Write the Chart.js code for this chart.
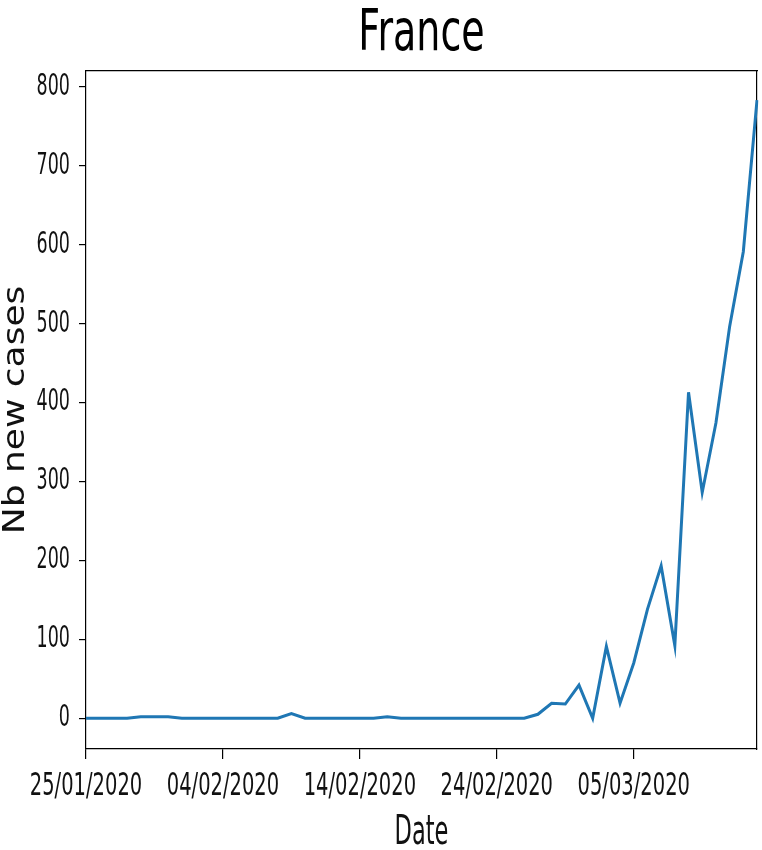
<!DOCTYPE html>
<html>
<head>
<meta charset="utf-8">
<script src="https://cdn.jsdelivr.net/npm/chart.js@4/dist/chart.umd.min.js"></script>
<style>
  html, body { margin: 0; padding: 0; background: #fff; }
  canvas { display: block; }
</style>
</head>
<body>
<canvas id="c" width="762" height="850"></canvas>
<script>
// ---- data ----
const chartTitle = 'France';
const xAxisTitle = 'Date';
const yAxisTitle = 'Nb new cases';
const dates = [
  '25/01/2020','26/01/2020','27/01/2020','28/01/2020','29/01/2020','30/01/2020','31/01/2020',
  '01/02/2020','02/02/2020','03/02/2020','04/02/2020','05/02/2020','06/02/2020','07/02/2020',
  '08/02/2020','09/02/2020','10/02/2020','11/02/2020','12/02/2020','13/02/2020','14/02/2020',
  '15/02/2020','16/02/2020','17/02/2020','18/02/2020','19/02/2020','20/02/2020','21/02/2020',
  '22/02/2020','23/02/2020','24/02/2020','25/02/2020','26/02/2020','27/02/2020','28/02/2020',
  '29/02/2020','01/03/2020','02/03/2020','03/03/2020','04/03/2020','05/03/2020','06/03/2020',
  '07/03/2020','08/03/2020','09/03/2020','10/03/2020','11/03/2020','12/03/2020','13/03/2020',
  '14/03/2020'
];
const newCases = [
  0, 0, 0, 0, 2, 2, 2,
  0, 0, 0, 0, 0, 0, 0,
  0, 6, 0, 0, 0, 0, 0,
  0, 2, 0, 0, 0, 0, 0,
  0, 0, 0, 0, 0, 5, 19,
  18, 42, 0, 91, 19, 70, 138,
  193, 92, 413, 286, 374, 496, 591,
  783
];
const xTickLabels = ['25/01/2020','04/02/2020','14/02/2020','24/02/2020','05/03/2020'];
const yTickValues = [0, 100, 200, 300, 400, 500, 600, 700, 800];

// ---- text stretch (reference text is drawn tall/narrow) ----
const canvas = document.getElementById('c');
const ctx = canvas.getContext('2d');
const STRETCH = { '38': [1, 1.5], '19.5': [1, 1.6], '22.5': [1, 1.8], '30': [1.2, 1], '17.5': [1, 1.75] };
const origFillText = ctx.fillText;
ctx.fillText = function (text, x, y, maxWidth) {
  const m = /([\d.]+)px/.exec(this.font);
  const s = m && STRETCH[m[1]];
  if (!s) {
    return maxWidth === undefined ? origFillText.call(this, text, x, y)
                                  : origFillText.call(this, text, x, y, maxWidth);
  }
  this.save();
  this.translate(x, y);
  this.scale(s[0], s[1]);
  if (maxWidth === undefined) origFillText.call(this, text, 0, 0);
  else origFillText.call(this, text, 0, 0, maxWidth / s[0]);
  this.restore();
};

const FONT = "'DejaVu Sans', 'Liberation Sans', sans-serif";
const AXIS = '#000';
const TXT = '#111';

new Chart(ctx, {
  type: 'line',
  data: {
    labels: dates,
    datasets: [{
      data: newCases,
      borderColor: '#1f77b4',
      borderWidth: 3,
      pointRadius: 0,
      tension: 0,
      fill: false
    }]
  },
  options: {
    responsive: false,
    animation: false,
    devicePixelRatio: 1,
    layout: { padding: { left: 0, right: 5, top: 0, bottom: 0 } },
    plugins: {
      legend: { display: false },
      tooltip: { enabled: false },
      title: { display: false }
    },
    scales: {
      x: {
        type: 'category',
        position: 'bottom',
        offset: false,
        afterBuildTicks: (scale) => {
          scale.ticks = scale.ticks.filter(t => xTickLabels.includes(dates[t.value]));
        },
        afterFit: (scale) => { scale.height = 101; },
        ticks: {
          autoSkip: false,
          maxRotation: 0,
          minRotation: 0,
          color: TXT,
          padding: 12,
          font: { family: FONT, size: 19.5, lineHeight: 32 / 19.5 }
        },
        grid: { display: true, drawOnChartArea: false, drawTicks: true, tickLength: 10, color: AXIS, lineWidth: 1.2 },
        border: { display: true, color: AXIS, width: 1.2 },
        title: {
          display: true,
          text: xAxisTitle,
          color: TXT,
          padding: { top: 0, bottom: 0 },
          font: { family: FONT, size: 22.5, lineHeight: 1.5 }
        }
      },
      x2: {
        type: 'category',
        position: 'top',
        offset: false,
        afterFit: (scale) => { scale.height = 71; },
        ticks: { display: false },
        grid: { display: true, drawOnChartArea: false, drawTicks: false },
        border: { display: true, color: AXIS, width: 1.2 },
        title: {
          display: true,
          text: chartTitle,
          color: '#000',
          padding: { top: 5, bottom: 6 },
          font: { family: FONT, size: 38, lineHeight: 60 / 38 }
        }
      },
      y: {
        type: 'linear',
        position: 'left',
        min: -39,
        max: 820,
        afterFit: (scale) => { scale.width = 86; },
        afterBuildTicks: (scale) => {
          scale.ticks = yTickValues.map(v => ({ value: v }));
        },
        ticks: {
          color: TXT,
          padding: 9,
          font: { family: FONT, size: 17.5, lineHeight: 1.8 }
        },
        grid: { display: true, drawOnChartArea: false, drawTicks: true, tickLength: 7, color: AXIS, lineWidth: 1.2 },
        border: { display: true, color: AXIS, width: 1.2 },
        title: {
          display: true,
          text: yAxisTitle,
          color: TXT,
          padding: { top: 1, bottom: 0 },
          font: { family: FONT, size: 30, lineHeight: 1.0 }
        }
      },
      y2: {
        type: 'linear',
        position: 'right',
        min: -39,
        max: 820,
        afterFit: (scale) => { scale.width = 0; },
        ticks: { display: false },
        grid: { display: true, drawOnChartArea: false, drawTicks: false },
        border: { display: true, color: AXIS, width: 1.2 }
      }
    }
  }
});
</script>
</body>
</html>
